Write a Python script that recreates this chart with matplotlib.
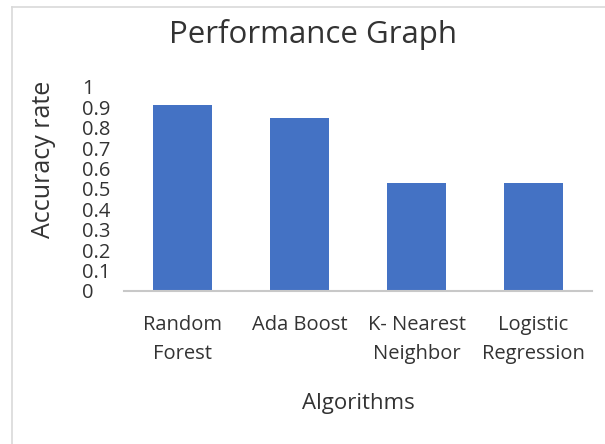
import matplotlib
matplotlib.use("Agg")
import matplotlib.pyplot as plt
from matplotlib.lines import Line2D

plt.rcParams['font.family'] = ['Open Sans', 'DejaVu Sans']

algorithms = ["Random\nForest", "Ada Boost", "K- Nearest\nNeighbor", "Logistic\nRegression"]
accuracy = [0.91, 0.85, 0.53, 0.53]
yticks = [0, 0.1, 0.2, 0.3, 0.4, 0.5, 0.6, 0.7, 0.8, 0.9, 1]
ytick_labels = ["0", "0.1", "0.2", "0.3", "0.4", "0.5", "0.6", "0.7", "0.8", "0.9", "1"]

W, H = 605, 444
fig = plt.figure(figsize=(W / 100, H / 100), dpi=100)
ax = fig.add_axes([124 / W, 1 - 291 / H, (592 - 124) / W, (291 - 87) / H])

ax.bar(range(len(algorithms)), accuracy, width=0.5, color="#4472C4")
ax.set_xlim(-0.5, len(algorithms) - 0.5)
ax.set_ylim(0, 1)

ax.set_yticks(yticks)
ax.set_yticklabels(ytick_labels, ha="left")
ax.set_xticks(range(len(algorithms)))
ax.set_xticklabels(algorithms, linespacing=1.65)
ax.tick_params(axis="y", length=0, pad=30, labelsize=14.5, labelcolor="#333333")
ax.tick_params(axis="x", length=0, pad=17, labelsize=14.5, labelcolor="#333333")

for s in ["top", "right", "left"]:
    ax.spines[s].set_visible(False)
ax.spines["bottom"].set_color("#c8c8c8")
ax.spines["bottom"].set_linewidth(1.5)

fig.text(313 / W, 1 - 35 / H, "Performance Graph", ha="center", va="center",
         fontsize=22.5, color="#333333")
fig.text(44 / W, 1 - 159 / H, "Accuracy rate", ha="center", va="center",
         rotation=90, fontsize=18, color="#333333")
fig.text(358 / W, 1 - 403 / H, "Algorithms", ha="center", va="center",
         fontsize=16, color="#333333")

# light chart-area border (top and left edges only visible)
fig.add_artist(Line2D([12 / W, 1], [1 - 7 / H, 1 - 7 / H], color="#d9d9d9", lw=1.2))
fig.add_artist(Line2D([12 / W, 12 / W], [0, 1 - 7 / H], color="#d9d9d9", lw=1.2))

fig.savefig("out.png", dpi=100)
